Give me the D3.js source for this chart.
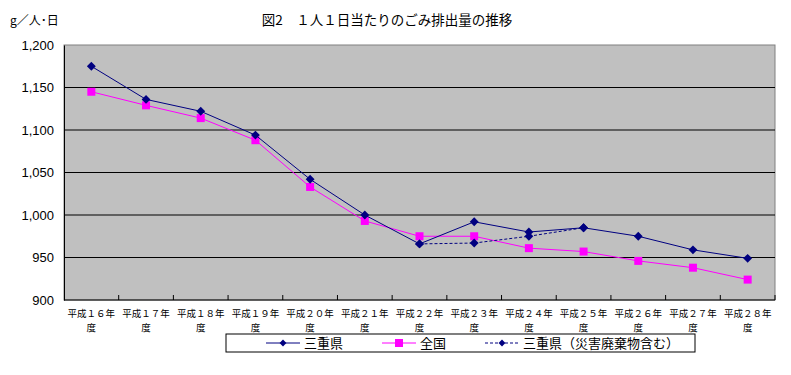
<!DOCTYPE html>
<html>
<head>
<meta charset="utf-8">
<script src="https://cdn.jsdelivr.net/npm/d3@7"></script>
<style>
  body { margin: 0; background: #fff; }
  svg text { font-family: "Noto Sans CJK JP", sans-serif; fill: #000; }
</style>
</head>
<body>
<svg id="chart" width="791" height="375"></svg>
<script>
// years (平成16〜28年度)
const years = ["１６", "１７", "１８", "１９", "２０", "２１", "２２", "２３", "２４", "２５", "２６", "２７", "２８"];
const mie = [1175, 1136, 1122, 1094, 1042, 1000, 966, 992, 980, 985, 975, 959, 949];
const national = [1145, 1129, 1114, 1088, 1033, 993, 975, 975, 961, 957, 946, 938, 924];
// 災害廃棄物含む — only differs for a few years
const mieDisaster = [null, null, null, null, null, null, 966, 967, 975, 985, null, null, null];
const yTicks = [900, 950, 1000, 1050, 1100, 1150, 1200];

const svg = d3.select("#chart");
const plotL = 64, plotR = 775, plotT = 45, plotB = 300;

const x = d3.scaleBand().domain(years).range([plotL, plotR]);
const y = d3.scaleLinear().domain([900, 1200]).range([plotB, plotT]);

// plot background
svg.append("rect")
  .attr("x", plotL).attr("y", plotT)
  .attr("width", plotR - plotL).attr("height", plotB - plotT)
  .attr("fill", "#c0c0c0")
  .attr("stroke", "#808080");

// gridlines
svg.append("g")
  .selectAll("line")
  .data(yTicks.filter(d => d > 900 && d < 1200))
  .join("line")
  .attr("x1", plotL).attr("x2", plotR)
  .attr("y1", d => y(d)).attr("y2", d => y(d))
  .attr("stroke", "#000").attr("stroke-width", 1);

// y axis
const yAxis = svg.append("g")
  .attr("transform", `translate(${plotL},0)`)
  .call(d3.axisLeft(y).tickValues(yTicks).tickSize(0).tickPadding(10).tickFormat(d3.format(",")));
yAxis.select(".domain").attr("stroke", "#000");
yAxis.selectAll("text").style("font-family", "Arial, 'Liberation Sans', sans-serif").style("font-size", "13px");

// x axis (ticks between categories)
const xAxisG = svg.append("g").attr("transform", `translate(0,${plotB})`);
xAxisG.append("line").attr("x1", plotL).attr("x2", plotR).attr("stroke", "#000");
xAxisG.selectAll("line.tk")
  .data(years)
  .join("line")
  .attr("class", "tk")
  .attr("x1", d => x(d) + x.step())
  .attr("x2", d => x(d) + x.step())
  .attr("y1", 0).attr("y2", -5)
  .attr("stroke", "#000");
const xl = xAxisG.selectAll("text.xl")
  .data(years)
  .join("text")
  .attr("class", "xl")
  .attr("text-anchor", "middle")
  .style("font-size", "9.5px");
xl.append("tspan")
  .attr("x", d => x(d) + x.bandwidth() / 2).attr("y", 17)
  .text(d => "平成" + d + "年");
xl.append("tspan")
  .attr("x", d => x(d) + x.bandwidth() / 2).attr("y", 31)
  .text("度");

const cx = (d, i) => x(years[i]) + x.bandwidth() / 2;
const line = d3.line().defined(d => d != null).x(cx).y(d => y(d));
const diamond = d3.symbol().type(d3.symbolDiamond2).size(50);

function drawSeries(data, color, dash, marker) {
  svg.append("path")
    .datum(data)
    .attr("d", line)
    .attr("fill", "none")
    .attr("stroke", color)
    .attr("stroke-width", 1)
    .attr("stroke-dasharray", dash);
  const pts = data.map((v, i) => ({ v, i })).filter(d => d.v != null);
  if (marker === "diamond") {
    svg.append("g").selectAll("path")
      .data(pts).join("path")
      .attr("d", diamond)
      .attr("transform", d => `translate(${cx(d.v, d.i)},${y(d.v)})`)
      .attr("fill", color);
  } else {
    svg.append("g").selectAll("rect")
      .data(pts).join("rect")
      .attr("x", d => cx(d.v, d.i) - 4).attr("y", d => y(d.v) - 4)
      .attr("width", 8).attr("height", 8)
      .attr("fill", color);
  }
}

drawSeries(national, "#ff00ff", null, "square");
drawSeries(mieDisaster, "#000080", "3,2", "diamond");
drawSeries(mie, "#000080", null, "diamond");

// title and units
svg.append("text").attr("x", 387).attr("y", 25).attr("text-anchor", "middle")
  .style("font-size", "13.5px").text("図2　１人１日当たりのごみ排出量の推移");
svg.append("text").attr("x", 10).attr("y", 25)
  .style("font-size", "12px").text("g／人･日");

// legend
const lg = svg.append("g");
lg.append("rect").attr("x", 226).attr("y", 334).attr("width", 469).attr("height", 18)
  .attr("fill", "#fff").attr("stroke", "#000");
const legendItems = [
  { label: "三重県", color: "#000080", dash: null, marker: "diamond", x: 266 },
  { label: "全国", color: "#ff00ff", dash: null, marker: "square", x: 382 },
  { label: "三重県（災害廃棄物含む）", color: "#000080", dash: "3,2", marker: "diamond", x: 485 }
];
legendItems.forEach(it => {
  const ly = 343;
  lg.append("line").attr("x1", it.x).attr("x2", it.x + 34).attr("y1", ly).attr("y2", ly)
    .attr("stroke", it.color).attr("stroke-dasharray", it.dash);
  if (it.marker === "diamond") {
    lg.append("path").attr("d", d3.symbol().type(d3.symbolDiamond2).size(30))
      .attr("transform", `translate(${it.x + 17},${ly})`).attr("fill", it.color);
  } else {
    lg.append("rect").attr("x", it.x + 13).attr("y", ly - 4).attr("width", 8).attr("height", 8)
      .attr("fill", it.color);
  }
  lg.append("text").attr("x", it.x + 38).attr("y", ly + 5)
    .style("font-size", "13px").text(it.label);
});
</script>
</body>
</html>
